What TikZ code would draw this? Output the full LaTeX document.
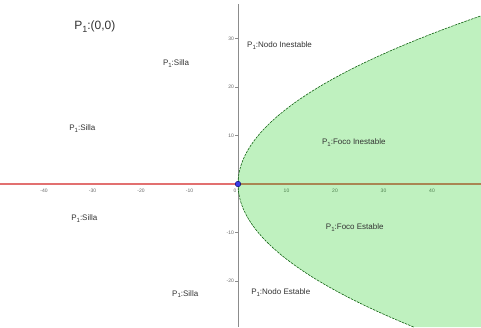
\documentclass[tikz,border=0pt]{standalone}
\usepackage{fontspec}
\setmainfont{Liberation Sans}
\definecolor{ejered}{RGB}{226,112,112}
\definecolor{zonagreen}{RGB}{0,200,0}
\definecolor{bordegreen}{RGB}{20,100,20}
\definecolor{puntoblue}{RGB}{60,60,230}
\newcommand{\Pone}{P\raisebox{-0.45ex}{\fontsize{6}{6}\selectfont 1}}
\begin{document}
\begin{tikzpicture}[x=4.85pt, y=4.85pt,
    lbl/.style={anchor=west, inner sep=0pt, font=\fontsize{8}{9}\selectfont, text=black!80},
    ticklbl/.style={inner sep=0pt, font=\fontsize{5}{6}\selectfont, text=black!60}]
    \useasboundingbox (-49.07,-29.48) rectangle (50.1,37.94);
    % ejes
    \coordinate (O) at (0,0);
    \coordinate (yb) at (0,-29.48);
    \coordinate (yt) at (0,37.2);
    \coordinate (xl) at (-49.07,0);
    \coordinate (xr) at (50.1,0);
    \draw[black!45, line width=0.5pt] (yb) -- (yt);
    \foreach \v in {-20,-10,10,20,30} {
        \draw[black!45, line width=0.4pt] (-0.6,\v) -- (0,\v);
        \node[ticklbl, anchor=east] (ty\v) at (-0.8,\v) {\v};
    }
    \foreach \v in {-40,-30,-20,-10,10,20,30,40} {
        \node[ticklbl, anchor=north] (tx\v) at (\v,-1.0) {\v};
    }
    \node[ticklbl, anchor=north east] (t0) at (-0.3,-0.9) {0};
    \draw[ejered, line width=2pt] (xl) -- (xr);
    % region
    \fill[zonagreen, fill opacity=0.25] plot[domain=-29.48:34.68, samples=80, variable=\t] ({\t*\t/24},\t)
        -- (50.1,34.68) -- (50.1,-29.48) -- cycle;
    \draw[bordegreen, line width=0.6pt, dash pattern=on 2.5pt off 1pt]
        plot[domain=-29.48:34.68, samples=80, variable=\t] ({\t*\t/24},\t);
    \fill[puntoblue, draw=blue!40!black, line width=0.4pt] (O) circle (2.8pt);
    % etiquetas
    \node[lbl, font=\fontsize{12}{14}\selectfont] (P1) at (-33.8,32.4) {P\raisebox{-0.45ex}{\fontsize{9}{9}\selectfont 1}:(0,0)};
    \node[lbl] (sillaA) at (-15.5,24.9) {\Pone:Silla};
    \node[lbl] (sillaB) at (-34.8,11.5) {\Pone:Silla};
    \node[lbl] (sillaC) at (-34.4,-7.2) {\Pone:Silla};
    \node[lbl] (sillaD) at (-13.6,-22.7) {\Pone:Silla};
    \node[lbl] (nodoI) at (1.86,28.5) {\Pone:Nodo Inestable};
    \node[lbl] (focoI) at (17.3,8.5) {\Pone:Foco Inestable};
    \node[lbl] (focoE) at (18.1,-8.9) {\Pone:Foco Estable};
    \node[lbl] (nodoE) at (2.7,-22.3) {\Pone:Nodo Estable};
\end{tikzpicture}
\end{document}
